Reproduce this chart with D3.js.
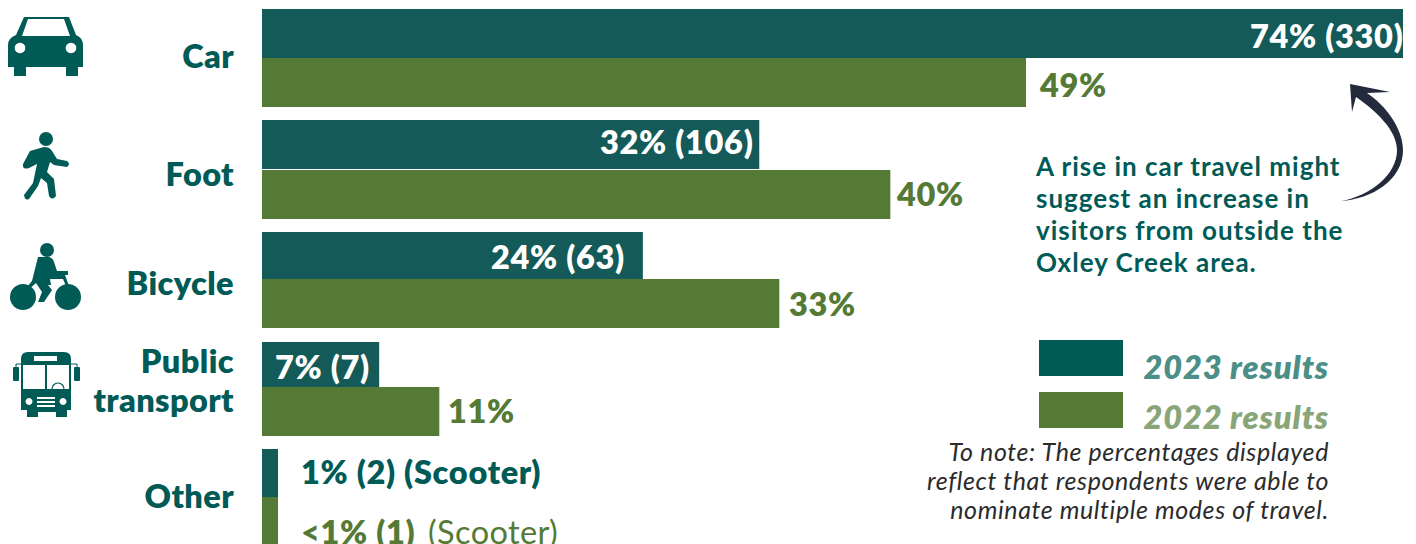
<!DOCTYPE html>
<html><head><meta charset="utf-8">
<script src="https://cdn.jsdelivr.net/npm/d3@7"></script>
<style>html,body{margin:0;padding:0;background:#fff}svg{display:block}text{font-family:Lato,sans-serif}</style>
</head><body><svg id="c" width="1416" height="544"></svg>
<script>
const categories = ["Car","Foot","Bicycle","Public transport","Other"];
const values2023 = [74, 32.25, 24.7, 7.6, 1.04];
const values2022 = [49.55, 40.75, 33.55, 11.5, 1.04];
const labels2023 = ["74% (330)","32% (106)","24% (63)","7% (7)","1% (2) (Scooter)"];
const labels2022 = ["49%","40%","33%","11%","<1% (1)"];
const seriesNames = ["2023 results","2022 results"];
const noteLines = ["To note: The percentages displayed","reflect that respondents were able to","nominate multiple modes of travel."];
const calloutLines = ["A rise in car travel might","suggest an increase in","visitors from outside the","Oxley Creek area."];

const DARK="#135a58", GREEN="#547a36", TEAL="#005a56";
const svg=d3.select("#c");
const x=d3.scaleLinear().domain([0,74]).range([262,1403]);
const rowY=d3.scaleOrdinal().domain(categories).range([9,120,232,342,449]);
const h23=d3.scaleOrdinal().domain(categories).range([49,49,47,45,48]);
const h22=d3.scaleOrdinal().domain(categories).range([49,49,49,49,48]);
const gap=d3.scaleOrdinal().domain(categories).range([0,1,0,0,0]);
// label placement per row
const lab23X=d3.scaleOrdinal().domain(categories).range([1250,600,491,275,301]);
const lab23Y=d3.scaleOrdinal().domain(categories).range([48,154,269,379,484]);
const lab22X=d3.scaleOrdinal().domain(categories).range([1040,897,789,448,301]);
const lab22Y=d3.scaleOrdinal().domain(categories).range([97,206,316,423,544]);

const rows=svg.append("g").selectAll("g").data(categories).join("g");
rows.append("rect").attr("x",x(0)).attr("y",d=>rowY(d)).attr("height",d=>h23(d))
  .attr("width",(d,i)=>x(values2023[i])-x(0)).attr("fill",DARK);
rows.append("rect").attr("x",x(0)).attr("y",d=>rowY(d)+h23(d)+gap(d)).attr("height",d=>h22(d))
  .attr("width",(d,i)=>x(values2022[i])-x(0)).attr("fill",GREEN);

// category labels
const catLabel=svg.append("g").attr("font-size",32.5).attr("letter-spacing",0.4).attr("font-weight",800).attr("fill",TEAL).attr("text-anchor","end");
catLabel.append("text").attr("x",234).attr("y",68).text(categories[0]);
catLabel.append("text").attr("x",234).attr("y",186).text(categories[1]);
catLabel.append("text").attr("x",234).attr("y",295).text(categories[2]);
catLabel.append("text").attr("x",234).attr("y",373).text("Public");
catLabel.append("text").attr("x",234).attr("y",412).text("transport");
catLabel.append("text").attr("x",234).attr("y",508).text(categories[4]);

// value labels
const vl=svg.append("g").attr("font-size",32.5).attr("letter-spacing",0.7).attr("font-weight",800);
vl.selectAll(".a").data(categories).join("text")
  .attr("x",d=>lab23X(d)).attr("y",d=>lab23Y(d))
  .attr("fill",(d,i)=>i==4?TEAL:"#fff").text((d,i)=>labels2023[i]);
vl.selectAll(".b").data(categories).join("text")
  .attr("x",d=>lab22X(d)).attr("y",d=>lab22Y(d))
  .attr("fill",GREEN).text((d,i)=>labels2022[i]);
vl.append("text").attr("x",428).attr("y",544).attr("font-weight",400).attr("letter-spacing",0.4).attr("fill",GREEN).text("(Scooter)");

// callout
svg.append("g").attr("font-size",26).attr("letter-spacing",1).attr("font-weight",700).attr("fill",TEAL)
  .selectAll("text").data(calloutLines).join("text").attr("x",1036)
  .attr("y",(d,i)=>176+i*32).text(d=>d);
// arrow
svg.append("path").attr("fill","#232a3b")
  .attr("d","M1341 201 C1372 199 1403 180 1403 150 C1403 128 1385 105 1367 93 L1390 92 L1350 84 L1352 112 L1356 97 C1375 110 1397 130 1397 150 C1397 175 1370 196 1341 201 Z");

// legend
const lg=svg.append("g");
lg.selectAll("rect").data(seriesNames).join("rect").attr("x",1039).attr("y",(d,i)=>340+i*52)
  .attr("width",84).attr("height",36).attr("fill",(d,i)=>[TEAL,GREEN][i]);
lg.selectAll("text").data(seriesNames).join("text").attr("x",1329).attr("text-anchor","end")
  .attr("y",(d,i)=>379+i*50).attr("font-size",32.5).attr("letter-spacing",0.9).attr("font-weight",800).attr("font-style","italic")
  .attr("fill",(d,i)=>["#4c8f88","#8aa678"][i]).text(d=>d);
// note
svg.append("g").attr("font-size",25).attr("letter-spacing",0.6).attr("font-style","italic").attr("fill","#2b2b2b").attr("text-anchor","end")
  .selectAll("text").data(noteLines).join("text").attr("x",1329).attr("y",(d,i)=>461+i*29).text(d=>d);

// icons
const ic=svg.append("g").attr("fill",TEAL);
// car
ic.append("path").attr("fill-rule","evenodd").attr("d","M24 17 H69 L76 35 Q83 38 83 45 V67 H78 V76 H66 V67 H26 V76 H14 V67 H8 V45 Q8 38 16 35 Z M28 19 L22 36 H70 L64 19 Z M20 42.7 a5.3 5.3 0 1 0 .01 0 Z M71 42.7 a5.3 5.3 0 1 0 .01 0 Z");
// walker
ic.append("circle").attr("cx",46).attr("cy",139).attr("r",7);
ic.append("path").attr("d","M30 151 L44 147 Q50 147 52 151 L57 159 L67 161 Q71 164 67 167 L54 165 L50 162 L47 172 L54 179 L56 196 Q52 201 49 196 L47 183 L41 178 L38 186 L29 199 Q25 201 24 195 L33 183 L37 164 L29 168 Q22 170 23 164 Z");
// bicycle
ic.append("circle").attr("cx",47).attr("cy",250).attr("r",7);
ic.append("circle").attr("cx",23).attr("cy",297).attr("r",13);
ic.append("circle").attr("cx",68).attr("cy",297).attr("r",13);
ic.append("path").attr("d","M38 257 H49 Q53 258 54 262 L57 271 H68 V275 L65 275 L69 286 H66 L63 279 H50 L51 285 H48 L52 290 L44 302 H38 L42 292 L36 283 L28 290 L26 288 L32 281 Z");
// bus
ic.append("path").attr("fill-rule","evenodd").attr("d","M28 352 H64 Q71 352 71 359 V410 H67 V417 H56 V412 H38 V417 H27 V410 H21 V359 Q21 352 28 352 Z M34 356 V361 H57 V356 Z M23 365 V389 H45 V365 Z M47 365 V389 H69 V365 Z M29 398 a3.5 3.5 0 1 0 .01 0 Z M63 398 a3.5 3.5 0 1 0 .01 0 Z M37 397 V399 H55 V397 Z M37 401 V403 H55 V401 Z M37 405 V407 H55 V405 Z");
ic.append("rect").attr("x",13).attr("y",367).attr("width",6).attr("height",14).attr("rx",1);
ic.append("rect").attr("x",74).attr("y",367).attr("width",6).attr("height",14).attr("rx",1);
ic.append("path").attr("d","M16 367 V364 H21 M77 367 V364 H71").attr("fill","none").attr("stroke",TEAL).attr("stroke-width",1);
ic.append("path").attr("d","M52 389 a6 6 0 0 1 12 0").attr("fill","none").attr("stroke",TEAL).attr("stroke-width",1.2);
</script></body></html>
